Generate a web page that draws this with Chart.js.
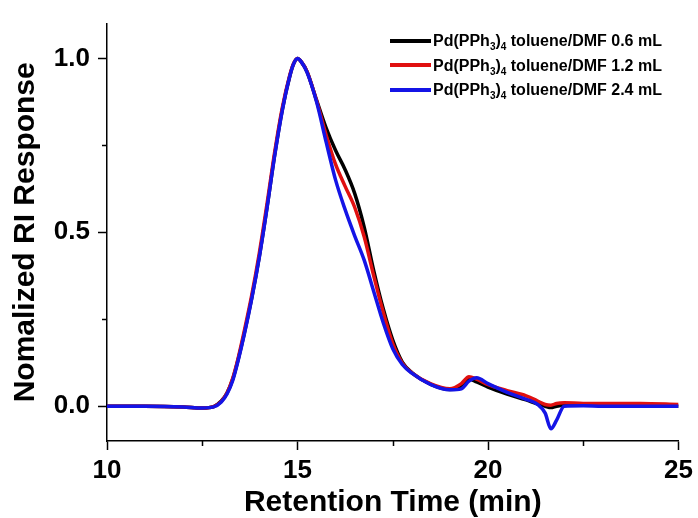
<!DOCTYPE html>
<html>
<head>
<meta charset="utf-8">
<script src="https://cdn.jsdelivr.net/npm/chart.js@4.4.1/dist/chart.umd.min.js"></script>
<style>
    body { margin: 0; background: #fff; }
    #wrap { position: relative; width: 698px; height: 518px; }
    #legend {
        position: absolute; left: 390px; top: 29px;
        font: bold 16px "Liberation Sans", Arial, sans-serif; color: #000;
    }
    .row { height: 24.5px; line-height: 24px; white-space: nowrap; }
    .swatch { display: inline-block; width: 41px; height: 4px; vertical-align: middle; margin-right: 2px; position: relative; top: -1px; }
    sub { font-size: 10px; vertical-align: -4px; line-height: 0; }
</style>
</head>
<body>
<div id="wrap">
    <canvas id="chart" width="698" height="518"></canvas>
    <div id="legend"></div>
</div>
<script>
// retention time grid (min)
const times = [10, 11, 12, 12.5, 12.8, 13.0, 13.15, 13.3, 13.45, 13.6, 13.8, 14.0, 14.2, 14.4, 14.6, 14.8, 14.9,
    15.0, 15.1, 15.25, 15.5, 15.75, 16.0, 16.25, 16.5, 16.75, 17.0, 17.25, 17.5, 17.75, 18.0, 18.5, 19.0,
    19.3, 19.5, 19.7, 20.0, 20.5, 21.0, 21.3, 21.5, 21.65, 21.8, 22.0, 22.5, 23, 24, 25];

const black06 = [0, 0, -0.002, -0.005, -0.001, 0.015, 0.038, 0.078, 0.138, 0.208, 0.312, 0.432, 0.572, 0.722, 0.852, 0.95, 0.985,
    1.0, 0.99, 0.962, 0.88, 0.80, 0.735, 0.68, 0.612, 0.515, 0.39, 0.28, 0.19, 0.127, 0.097, 0.063, 0.048,
    0.055, 0.078, 0.07, 0.055, 0.035, 0.018, 0.006, 0.0, -0.004, 0.0, 0.003, 0.004, 0.003, 0.002, 0.0];

const red12 = [0, 0, -0.002, -0.005, -0.001, 0.014, 0.038, 0.08, 0.142, 0.215, 0.32, 0.442, 0.582, 0.73, 0.858, 0.953, 0.986,
    1.0, 0.99, 0.962, 0.878, 0.78, 0.695, 0.632, 0.572, 0.487, 0.375, 0.27, 0.18, 0.124, 0.096, 0.064, 0.05,
    0.065, 0.085, 0.078, 0.062, 0.045, 0.03, 0.015, 0.005, 0.003, 0.008, 0.01, 0.008, 0.008, 0.008, 0.005];

const blue24 = [0, 0, -0.002, -0.005, -0.002, 0.012, 0.035, 0.074, 0.135, 0.205, 0.31, 0.43, 0.57, 0.72, 0.85, 0.95, 0.985,
    1.0, 0.99, 0.96, 0.875, 0.76, 0.65, 0.565, 0.49, 0.42, 0.33, 0.24, 0.165, 0.12, 0.095, 0.062, 0.047,
    0.05, 0.072, 0.082, 0.065, 0.04, 0.02, 0.005, -0.02, -0.065, -0.04, 0.0, 0.001, 0.0, 0.0, 0.0];

const seriesNames = ['0.6 mL', '1.2 mL', '2.4 mL'];
const seriesColors = ['#000000', '#e01010', '#1414e6'];

const xMajor = [10, 15, 20, 25];
const xMinor = [12.5, 17.5, 22.5];
const yMajor = [0, 0.5, 1.0];
const yMinor = [0.25, 0.75];

const FONT = '"Liberation Sans", Arial, sans-serif';

function toPoints(values) {
    return values.map((v, i) => ({ x: times[i], y: v }));
}

// small outward minor ticks, positioned by the scales
const minorTicks = {
    id: 'minorTicks',
    afterDraw(chart) {
        const ctx = chart.ctx;
        const xs = chart.scales.x, ys = chart.scales.y;
        ctx.save();
        ctx.strokeStyle = '#000';
        ctx.lineWidth = 1.5;
        ctx.beginPath();
        xMinor.forEach(v => {
            const px = Math.round(xs.getPixelForValue(v)) + 0.5;
            ctx.moveTo(px, ys.bottom);
            ctx.lineTo(px, ys.bottom + 5);
        });
        yMinor.forEach(v => {
            const py = Math.round(ys.getPixelForValue(v)) + 0.5;
            ctx.moveTo(xs.left, py);
            ctx.lineTo(xs.left - 5, py);
        });
        ctx.stroke();
        ctx.restore();
    }
};

const ctx = document.getElementById('chart').getContext('2d');
new Chart(ctx, {
    type: 'line',
    data: {
        datasets: [black06, red12, blue24].map((vals, i) => ({
            label: 'Pd(PPh3)4 toluene/DMF ' + seriesNames[i],
            data: toPoints(vals),
            borderColor: seriesColors[i],
            backgroundColor: seriesColors[i],
            borderWidth: 3.5,
            pointRadius: 0,
            fill: false,
            cubicInterpolationMode: 'monotone',
            order: 3 - i
        }))
    },
    options: {
        responsive: false,
        devicePixelRatio: 1,
        animation: false,
        layout: { padding: { top: 17, right: 18, left: 0, bottom: 0 } },
        plugins: {
            legend: { display: false },
            tooltip: { enabled: false }
        },
        scales: {
            x: {
                type: 'linear',
                min: 10,
                max: 25,
                afterFit: s => { s.height = 77; },
                afterBuildTicks: s => { s.ticks = xMajor.map(v => ({ value: v })); },
                grid: { drawOnChartArea: false, tickLength: 9, tickColor: '#000', tickWidth: 1.5 },
                border: { color: '#000', width: 1.5 },
                ticks: {
                    color: '#000', padding: 5, maxRotation: 0,
                    font: { family: FONT, size: 26, weight: 'bold' },
                    callback: v => v
                },
                title: {
                    display: true, text: 'Retention Time (min)', color: '#000',
                    font: { family: FONT, size: 30, weight: 'bold', lineHeight: 1 },
                    padding: 0
                }
            },
            y: {
                min: -0.1,
                max: 1.1,
                afterFit: s => { s.width = 107; },
                afterBuildTicks: s => { s.ticks = yMajor.map(v => ({ value: v })); },
                grid: { drawOnChartArea: false, tickLength: 9, tickColor: '#000', tickWidth: 1.5 },
                border: { color: '#000', width: 1.5 },
                ticks: {
                    color: '#000', padding: 8,
                    font: { family: FONT, size: 26, weight: 'bold' },
                    callback: v => v.toFixed(1)
                },
                title: {
                    display: true, text: 'Nomalized RI Response', color: '#000',
                    font: { family: FONT, size: 30, weight: 'bold', lineHeight: 1 },
                    padding: { top: 11, bottom: 0 }
                }
            }
        }
    },
    plugins: [minorTicks]
});

// legend with real subscripts
const legend = document.getElementById('legend');
seriesNames.forEach((name, i) => {
    const row = document.createElement('div');
    row.className = 'row';
    row.innerHTML = `<span class="swatch" style="background:${seriesColors[i]}"></span>Pd(PPh<sub>3</sub>)<sub>4</sub> toluene/DMF ${name}`;
    legend.appendChild(row);
});
</script>
</body>
</html>
